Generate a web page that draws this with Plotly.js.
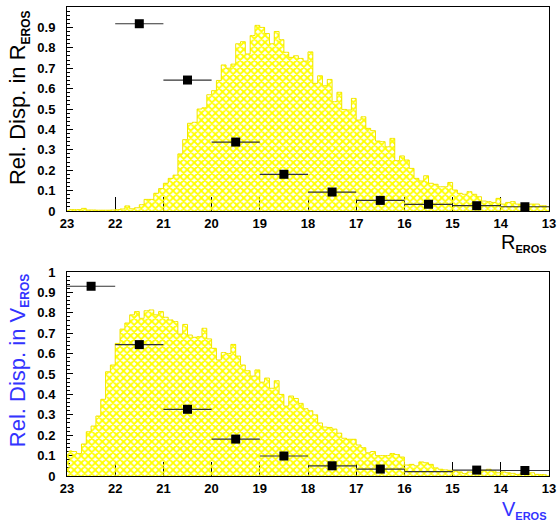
<!DOCTYPE html>
<html><head><meta charset="utf-8">
<script src="https://cdn.plot.ly/plotly-3.0.1.min.js"></script>
<style>html,body{margin:0;padding:0;background:#fff}</style>
</head><body><div id="chart" style="width:559px;height:527px"></div>
<script>
// histogram: 100 bins of 0.1 mag from 23.0 down to 13.0
const binHigh = 23.0;
const binWidth = 0.1;
const rHist = [
 0.007,0.007,0.007,0.013,0.005,0.005,0.004,0.004,0.004,0.005,
 0.007,0.010,0.025,0.011,0.016,0.031,0.057,0.057,0.087,0.110,
 0.136,0.160,0.176,0.280,0.350,0.430,0.435,0.500,0.506,0.570,
 0.590,0.640,0.716,0.700,0.720,0.820,0.830,0.770,0.860,0.910,
 0.900,0.870,0.820,0.880,0.840,0.778,0.753,0.761,0.748,0.735,
 0.780,0.626,0.663,0.614,0.645,0.536,0.582,0.498,0.495,0.552,
 0.446,0.462,0.405,0.394,0.343,0.340,0.315,0.356,0.247,0.270,
 0.250,0.209,0.160,0.147,0.173,0.136,0.131,0.119,0.119,0.140,
 0.103,0.087,0.082,0.095,0.082,0.070,0.049,0.046,0.042,0.062,
 0.034,0.042,0.046,0.034,0.029,0.029,0.034,0.034,0.026,0.026
];
const vHist = [
 0.123,0.120,0.110,0.157,0.217,0.245,0.294,0.376,0.511,0.544,
 0.650,0.720,0.750,0.790,0.806,0.773,0.810,0.814,0.790,0.806,
 0.778,0.765,0.757,0.696,0.743,0.691,0.680,0.683,0.724,0.672,
 0.626,0.569,0.605,0.600,0.645,0.588,0.544,0.516,0.490,0.520,
 0.460,0.480,0.430,0.467,0.400,0.343,0.392,0.380,0.356,0.330,
 0.320,0.300,0.260,0.240,0.238,0.230,0.210,0.185,0.180,0.180,
 0.152,0.139,0.114,0.120,0.100,0.100,0.100,0.110,0.105,0.093,
 0.054,0.057,0.050,0.069,0.065,0.057,0.040,0.033,0.030,0.028,
 0.025,0.020,0.012,0.020,0.020,0.025,0.028,0.033,0.025,0.016,
 0.020,0.016,0.013,0.008,0.013,0.008,0.016,0.008,0.007,0.006
];
const rPointMag = [21.5,20.5,19.5,18.5,17.5,16.5,15.5,14.5,13.5];
const rPointVal = [0.918,0.642,0.338,0.180,0.093,0.052,0.033,0.026,0.021];
const vPointMag = [22.5,21.5,20.5,19.5,18.5,17.5,16.5,14.5,13.5];
const vPointVal = [0.930,0.644,0.327,0.181,0.098,0.050,0.034,0.029,0.027];
// bin drawn as a bar only (no marker visible in the reference)
const vBarOnlyMag = [15.5];
const vBarOnlyVal = [0.021];
const magTicks = [23,22,21,20,19,18,17,16,15,14,13];

const binCenters = rHist.map((_, i) => binHigh - binWidth * (i + 0.5));

const YEL = '#ffff00';
function histTraces(vals, xa, ya) {
  return [{
    type: 'bar', x: binCenters, y: vals, width: binWidth, xaxis: xa, yaxis: ya,
    marker: {color: YEL, line: {width: 0},
      pattern: {shape: 'x', size: 5, solidity: 0.6, fgcolor: YEL}},
    hoverinfo: 'skip', showlegend: false
  }, {
    type: 'scatter', mode: 'lines', x: binCenters, y: vals, xaxis: xa, yaxis: ya,
    line: {shape: 'hvh', color: '#f2e600', width: 1}, hoverinfo: 'skip', showlegend: false
  }];
}
function pointTrace(mags, vals, xa, ya, visibleMarker) {
  return {
    type: 'scatter', mode: 'markers', x: mags, y: vals, xaxis: xa, yaxis: ya,
    marker: {symbol: 'square', color: '#000', size: 9, opacity: visibleMarker ? 1 : 0,
             line: {width: 0}},
    error_x: {type: 'constant', value: 0.5, width: 0, thickness: 1.2, color: '#333'},
    showlegend: false
  };
}

const data = [
  ...histTraces(rHist, 'x', 'y'),
  pointTrace(rPointMag, rPointVal, 'x', 'y', true),
  ...histTraces(vHist, 'x2', 'y2'),
  pointTrace(vBarOnlyMag, vBarOnlyVal, 'x2', 'y2', false),
  pointTrace(vPointMag, vPointVal, 'x2', 'y2', true)
];

const tickFont = {family: 'Liberation Sans', size: 13, color: '#000', weight: 'bold'};
function xAxis(anchor) {
  return {range: [23, 13], domain: [0, 1], anchor: anchor, tickvals: magTicks,
    ticks: 'inside', ticklen: 14, tickwidth: 1, tickcolor: '#000',
    showline: true, linecolor: '#000', linewidth: 1, mirror: true,
    showgrid: false, zeroline: false, tickfont: tickFont, layer: 'below traces'};
}
function yAxis(anchor, dom) {
  return {range: [0, 1], domain: dom, anchor: anchor, dtick: 0.1, tick0: 0,
    ticks: 'inside', ticklen: 6, tickwidth: 1, tickcolor: '#000',
    minor: {dtick: 0.02, ticks: 'inside', ticklen: 3, tickcolor: '#000'},
    ticklabelstandoff: 8,
    showline: true, linecolor: '#000', linewidth: 1, mirror: true,
    showgrid: false, zeroline: false, tickfont: tickFont, layer: 'below traces'};
}

const titleFont = {family: 'Liberation Sans', size: 22, color: '#000'};
const blue = '#3333ff';
const layout = {
  width: 559, height: 527,
  margin: {l: 67, r: 10, t: 7, b: 51},
  paper_bgcolor: '#fff', plot_bgcolor: '#fff',
  bargap: 0, barmode: 'overlay',
  xaxis: xAxis('y'), yaxis: yAxis('x', [0.565, 1]),
  xaxis2: xAxis('y2'), yaxis2: yAxis('x2', [0, 0.435]),
  annotations: [
    {text: 'Rel. Disp. in R<sub><b><span style="font-size:12px">EROS</span></b></sub>',
     xref: 'paper', yref: 'paper', x: -0.0996, y: 0.808, textangle: -90,
     xanchor: 'center', yanchor: 'middle', showarrow: false, font: titleFont},
    {text: 'Rel. Disp. in V<sub><b><span style="font-size:12px">EROS</span></b></sub>',
     xref: 'paper', yref: 'paper', x: -0.0996, y: 0.247, textangle: -90,
     xanchor: 'center', yanchor: 'middle', showarrow: false,
     font: {family: 'Liberation Sans', size: 22, color: blue}},
    {text: 'R<sub><b><span style="font-size:11px">EROS</span></b></sub>',
     xref: 'paper', yref: 'paper', x: 1.0, y: 0.497, xanchor: 'right', yanchor: 'middle',
     showarrow: false, font: {family: 'Liberation Sans', size: 20, color: '#000'}},
    {text: 'V<sub><b><span style="font-size:11px">EROS</span></b></sub>',
     xref: 'paper', yref: 'paper', x: 1.0, y: -0.0725, xanchor: 'right', yanchor: 'middle',
     showarrow: false, font: {family: 'Liberation Sans', size: 20, color: blue}}
  ]
};

Plotly.newPlot('chart', data, layout, {displayModeBar: false, staticPlot: true});
</script>
</body></html>
